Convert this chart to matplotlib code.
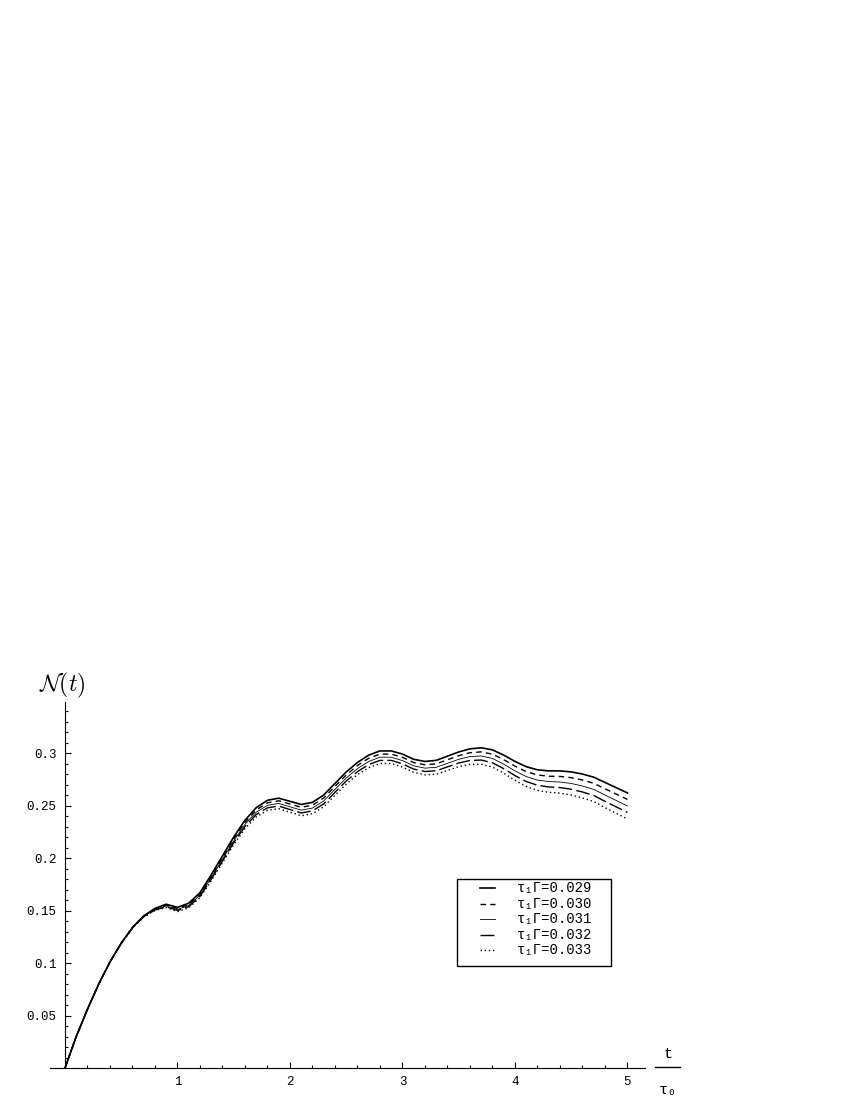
import matplotlib
matplotlib.use('Agg')
import matplotlib.pyplot as plt
from matplotlib.ticker import MultipleLocator, FixedLocator
from matplotlib.lines import Line2D
from matplotlib.patches import Rectangle

plt.rcParams['mathtext.fontset'] = 'cm'

# time in units of tau_0
t = [0.0, 0.1, 0.2, 0.3, 0.4, 0.5, 0.6, 0.7, 0.8, 0.9,
     1.0, 1.1, 1.2, 1.3, 1.4, 1.5, 1.6, 1.7, 1.8, 1.9,
     2.0, 2.1, 2.2, 2.3, 2.4, 2.5, 2.6, 2.7, 2.8, 2.9,
     3.0, 3.1, 3.2, 3.3, 3.4, 3.5, 3.6, 3.7, 3.8, 3.9,
     4.0, 4.1, 4.2, 4.3, 4.4, 4.5, 4.6, 4.7, 4.8, 4.9, 5.0]

n_029 = [0.0, 0.030, 0.056, 0.080, 0.101, 0.1190, 0.1340, 0.1450, 0.1520, 0.1560,
         0.1530, 0.1570, 0.1670, 0.1840, 0.2020, 0.2200, 0.2360, 0.2480, 0.2550, 0.2570,
         0.2540, 0.2510, 0.2530, 0.2600, 0.2710, 0.2820, 0.2910, 0.2980, 0.3020, 0.3020,
         0.2990, 0.2940, 0.2920, 0.2930, 0.2970, 0.3010, 0.3040, 0.3050, 0.3030, 0.2980,
         0.2920, 0.2870, 0.2840, 0.2830, 0.2830, 0.2820, 0.2800, 0.2770, 0.2720, 0.2670, 0.2620]
n_030 = [0.0, 0.030, 0.056, 0.080, 0.101, 0.1189, 0.1338, 0.1447, 0.1515, 0.1552,
         0.1520, 0.1559, 0.1658, 0.1826, 0.2004, 0.2182, 0.2340, 0.2458, 0.2526, 0.2545,
         0.2514, 0.2483, 0.2503, 0.2572, 0.2682, 0.2791, 0.2881, 0.2950, 0.2990, 0.2990,
         0.2959, 0.2909, 0.2888, 0.2897, 0.2936, 0.2975, 0.3003, 0.3011, 0.2989, 0.2937,
         0.2875, 0.2823, 0.2791, 0.2779, 0.2777, 0.2765, 0.2743, 0.2712, 0.2660, 0.2609, 0.2558]
n_031 = [0.0, 0.030, 0.056, 0.080, 0.101, 0.1188, 0.1336, 0.1444, 0.1510, 0.1544,
         0.1510, 0.1548, 0.1646, 0.1812, 0.1988, 0.2164, 0.2320, 0.2436, 0.2502, 0.2520,
         0.2488, 0.2456, 0.2476, 0.2544, 0.2654, 0.2762, 0.2852, 0.2920, 0.2960, 0.2960,
         0.2928, 0.2878, 0.2856, 0.2864, 0.2902, 0.2940, 0.2966, 0.2972, 0.2948, 0.2894,
         0.2830, 0.2776, 0.2742, 0.2728, 0.2724, 0.2710, 0.2686, 0.2654, 0.2600, 0.2548, 0.2496]
n_032 = [0.0, 0.030, 0.056, 0.080, 0.101, 0.1187, 0.1334, 0.1441, 0.1505, 0.1536,
         0.1500, 0.1537, 0.1634, 0.1798, 0.1972, 0.2146, 0.2300, 0.2414, 0.2478, 0.2495,
         0.2462, 0.2429, 0.2449, 0.2516, 0.2626, 0.2733, 0.2823, 0.2890, 0.2930, 0.2930,
         0.2897, 0.2847, 0.2824, 0.2831, 0.2868, 0.2905, 0.2929, 0.2933, 0.2907, 0.2851,
         0.2785, 0.2729, 0.2693, 0.2677, 0.2671, 0.2655, 0.2629, 0.2596, 0.2540, 0.2487, 0.2434]
n_033 = [0.0, 0.030, 0.056, 0.080, 0.101, 0.1186, 0.1332, 0.1438, 0.1500, 0.1528,
         0.1490, 0.1526, 0.1622, 0.1784, 0.1956, 0.2128, 0.2280, 0.2392, 0.2454, 0.2470,
         0.2436, 0.2402, 0.2422, 0.2488, 0.2598, 0.2704, 0.2794, 0.2860, 0.2900, 0.2900,
         0.2866, 0.2816, 0.2792, 0.2798, 0.2834, 0.2870, 0.2892, 0.2894, 0.2866, 0.2808,
         0.2740, 0.2682, 0.2644, 0.2626, 0.2618, 0.2600, 0.2572, 0.2538, 0.2480, 0.2426, 0.2372]

labels = ["τ₁Γ=0.029", "τ₁Γ=0.030", "τ₁Γ=0.031", "τ₁Γ=0.032", "τ₁Γ=0.033"]
series = [n_029, n_030, n_031, n_032, n_033]
styles = [dict(ls="-", lw=1.2), dict(ls=(0, (4, 3)), lw=1.0), dict(ls="-", lw=0.6),
          dict(ls=(0, (10, 3)), lw=1.0), dict(ls=(0, (1, 2)), lw=1.0)]

W, H = 850, 1100
def fx(px): return px / W
def fy(py): return 1 - py / H

fig = plt.figure(figsize=(8.5, 11), dpi=100)
ax = fig.add_axes([fx(50), fy(1089), 595 / W, 387 / H])

for y, st in zip(series, styles):
    ax.plot(t, y, color="black", **st)

ax.set_xlim(-0.1333, 5.156)
ax.set_ylim(-0.02, 0.3486)
for s in ("top", "right"):
    ax.spines[s].set_visible(False)
ax.spines["left"].set_position(("data", 0))
ax.spines["bottom"].set_position(("data", 0))
ax.spines["left"].set_bounds(0, 0.3486)
ax.spines["left"].set_linewidth(0.8)
ax.spines["bottom"].set_linewidth(0.8)

ax.xaxis.set_major_locator(FixedLocator([1, 2, 3, 4, 5]))
ax.xaxis.set_minor_locator(FixedLocator([i * 0.2 for i in range(1, 26) if i % 5]))
ax.yaxis.set_major_locator(FixedLocator([0.05, 0.1, 0.15, 0.2, 0.25, 0.3]))
ax.yaxis.set_minor_locator(FixedLocator([i * 0.01 for i in range(1, 35) if i % 5]))
ax.set_xticklabels(["1", "2", "3", "4", "5"])
ax.set_yticklabels(["0.05", "0.1", "0.15", "0.2", "0.25", "0.3"])
ax.tick_params(which="both", direction="in", width=0.8)
ax.tick_params(which="major", length=4.5, pad=6, labelsize=9)
ax.tick_params(which="minor", length=2.5)
for lb in ax.get_xticklabels() + ax.get_yticklabels():
    lb.set_family("Liberation Mono")

fig.text(fx(62), fy(685), r"$\mathcal{N}(t)$", fontsize=17, ha="center", va="center")
fig.text(fx(668), fy(1054), "t", fontsize=11, ha="center", va="center", family="Liberation Mono")
fig.add_artist(Line2D([fx(655), fx(680)], [fy(1067), fy(1067)], color="black", lw=1.0))
fig.text(fx(668), fy(1090), "τ₀", fontsize=11, ha="center", va="center",
         family=["Liberation Mono", "DejaVu Sans Mono"])

# legend box drawn by hand to match the original paddings
fig.add_artist(Rectangle((fx(457), fy(966)), fx(611) - fx(457), fy(879) - fy(966),
                         transform=fig.transFigure, facecolor="white", edgecolor="black", lw=1.0))
for i, (lab, st) in enumerate(zip(labels, styles)):
    yy = fy(888 + i * 15.6)
    fig.add_artist(Line2D([fx(480), fx(495)], [yy, yy], color="black", **st))
    fig.text(fx(517), yy, lab, fontsize=10, ha="left", va="center",
             family=["Liberation Mono", "DejaVu Sans Mono"])

fig.savefig("out.png", dpi=100)
